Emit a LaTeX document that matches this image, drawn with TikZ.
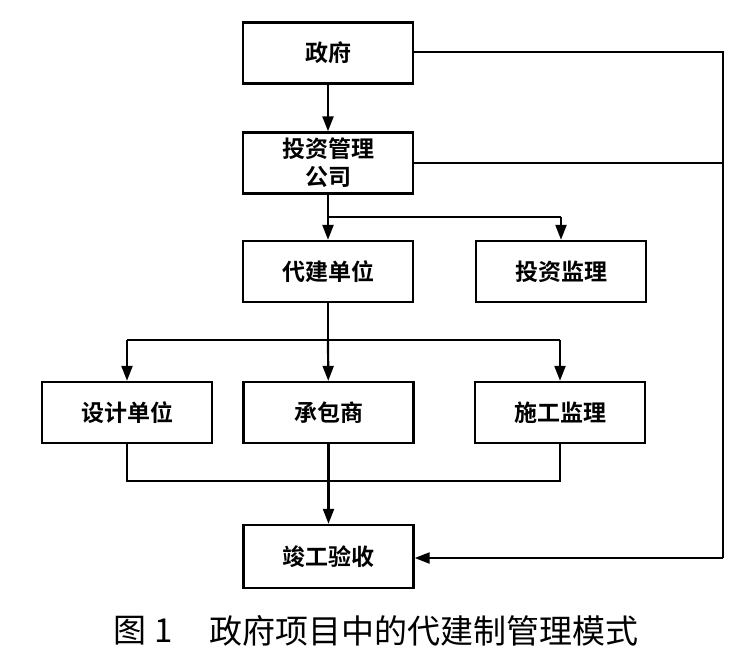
\documentclass[tikz,border=0pt]{standalone}
\usepackage{fontspec}
\setmainfont{Noto Sans CJK SC}
\newfontfamily\boxfont{Noto Sans CJK SC Bold}
\newfontfamily\capfont{Noto Sans CJK SC}
\usetikzlibrary{arrows.meta}
\begin{document}
\begin{tikzpicture}[x=1pt,y=-1pt,
  box/.style={draw,line width=2.4pt,minimum width=170pt,minimum height=61pt,inner sep=0pt,
    font=\boxfont\fontsize{23}{28}\selectfont,align=center},
  conn/.style={line width=2.2pt},
  arr/.style={line width=2.2pt,-{Triangle[length=15pt,width=11pt]}}]
\useasboundingbox (0,0) rectangle (750,649);
\node[box] (zf) at (328,53) {政府};
\node[box] (tz) at (328,163) {投资管理\\公司};
\node[box] (dj) at (328,271.5) {代建单位};
\node[box] (tj) at (561,271.5) {投资监理};
\node[box] (sj) at (127,412.5) {设计单位};
\node[box] (cb) at (328.5,412.5) {承包商};
\node[box] (sg) at (560,412.5) {施工监理};
\node[box,minimum height=63pt] (jg) at (328.5,556.5) {竣工验收};
\node[font=\capfont\fontsize{33}{36}\selectfont,anchor=west,inner sep=0pt] (cap1) at (113,631) {图\hspace{8pt}1};
\node[font=\capfont\fontsize{33}{36}\selectfont,anchor=west,inner sep=0pt] (cap2) at (209,631) {政府项目中的代建制管理模式};
\coordinate (r1) at (723,52);
\coordinate (r2) at (723,163);
\coordinate (r3) at (723,558);
\coordinate (b1) at (328,217);
\coordinate (b1r) at (561,217);
\coordinate (b2) at (328,340);
\coordinate (b2l) at (127,340);
\coordinate (b2r) at (560,340);
\coordinate (m) at (328.5,481);
\coordinate (ml) at (127,481);
\coordinate (mr) at (560,481);
\draw[arr] (zf) -- (tz);
\draw[conn] (zf.east |- r1) -- (r1) -- (r3);
\draw[conn] (tz.east) -- (r2);
\draw[arr] (r3) -- (jg.east |- r3);
\draw[arr] (tz) -- (dj);
\draw[conn] (b1) -- (b1r);
\draw[arr] (b1r) -- (tj);
\draw[conn] (dj) -- (b2);
\draw[conn] (b2l) -- (b2r);
\draw[arr] (b2l) -- (sj);
\draw[arr] (b2) -- (cb);
\draw[arr] (b2r) -- (sg);
\draw[conn] (sj) -- (ml) -- (mr) -- (sg);
\draw[conn] (cb) -- (m);
\draw[arr] (m) -- (jg);
\end{tikzpicture}
\end{document}
